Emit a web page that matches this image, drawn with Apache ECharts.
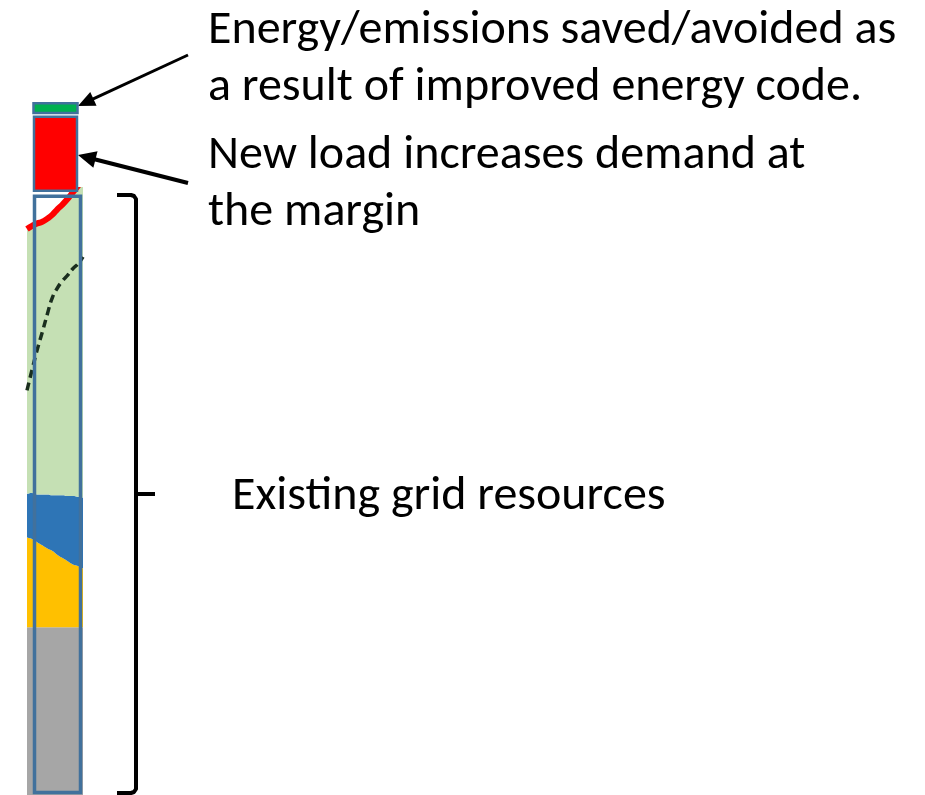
<!DOCTYPE html>
<html>
<head>
<meta charset="utf-8">
<script src="https://cdn.jsdelivr.net/npm/echarts@6/dist/echarts.min.js"></script>
<style>
html,body{margin:0;padding:0;background:#fff;}
#c{width:925px;height:795px;}
</style>
</head>
<body>
<div id="c"></div>
<script>
// ---- data ----
var xCats = ['0', '5', '10', '15', '20', '25', '30', '35', '40', '45', '50', '56'];
// stacked layers (bottom to top)
var greyLayer   = [21.1, 21.1, 21.1, 21.1, 21.1, 21.1, 21.1, 21.1, 21.1, 21.1, 21.1, 21.1];
var yellowLayer = [11.3, 11.1, 10.7, 10.3, 9.9, 9.6, 9.1, 8.7, 8.3, 7.9, 7.7, 7.4];
var blueLayer   = [5.5, 5.8, 6.0, 6.4, 6.8, 7.0, 7.5, 7.9, 8.2, 8.6, 8.7, 8.9];
var greenLayer  = [33.3, 33.6, 34.1, 34.3, 34.7, 35.3, 36.0, 36.6, 37.4, 38.2, 39.1, 40.1];
// dashed reference line
var dashedLine  = [50.9, 53.5, 56.0, 58.2, 60.5, 62.6, 63.8, 64.7, 65.4, 66.2, 66.8, 67.7];
// stacked bar segments: [xStart, xEnd, valueStart, valueEnd]
var barExisting = [7.5, 53.5, 0.3, 75.3];
var barNewLoad  = [7.0, 50.0, 76.0, 85.3];
var barSaved    = [6.5, 50.5, 85.8, 87.0];
// annotation texts
var labelSaved = ['Energy/emissions saved/avoided as', 'a result of improved energy code.'];
var labelNew = ['New load increases demand at', 'the margin'];
var labelExisting = 'Existing grid resources';

var FONT = 'Carlito, Lato, "Liberation Sans", sans-serif';

function arrow(x1,y1,x2,y2,w,hl,hw){
  var dx=x2-x1, dy=y2-y1, L=Math.sqrt(dx*dx+dy*dy), ux=dx/L, uy=dy/L;
  var bx=x2-ux*hl, by=y2-uy*hl, px=-uy, py=ux;
  return [
    {type:'line', shape:{x1:x1,y1:y1,x2:bx+ux*2,y2:by+uy*2}, style:{stroke:'#000',lineWidth:w}},
    {type:'polygon', shape:{points:[[x2,y2],[bx+px*hw/2,by+py*hw/2],[bx-px*hw/2,by-py*hw/2]]}, style:{fill:'#000'}}
  ];
}

var chart = echarts.init(document.getElementById('c'), null, {renderer:'canvas'});

function barItem(seg, fill, stroke, lw){
  return {x0:seg[0], x1:seg[1], y0:seg[2], y1:seg[3], fill:fill, stroke:stroke, lw:lw};
}
var barData = [
  barItem(barExisting, 'rgba(0,0,0,0)', '#41719C', 3.5),
  barItem(barNewLoad, '#FF0000', '#41719C', 2.5),
  barItem(barSaved, '#00B050', '#41719C', 2.5)
];

var graphics = [];
graphics = graphics.concat(arrow(188,55,78,106,3,17,15));
graphics = graphics.concat(arrow(188,183,78,155,4,18,17));
graphics.push({type:'polyline', shape:{points:[[117,195],[131,195],[134,196],[136,199],[136,789],[134,792],[131,793],[117,793]]}, style:{stroke:'#000', fill:null, lineWidth:4, lineJoin:'round'}});
graphics.push({type:'line', shape:{x1:136,y1:494,x2:155,y2:494}, style:{stroke:'#000', lineWidth:4}});
function txt(s,x,y){ return {type:'text', x:x, y:y, style:{text:s, fill:'#000', fontSize:48, fontFamily:FONT, verticalAlign:'middle', align:'left'}}; }
graphics.push(txt(labelSaved[0],208,31));
graphics.push(txt(labelSaved[1],208,88));
graphics.push(txt(labelNew[0],208,156));
graphics.push(txt(labelNew[1],208,213));
graphics.push(txt(labelExisting,232,497));

var areaCommon = {type:'line', stack:'grid', smooth:true, symbol:'none', xAxisIndex:0, yAxisIndex:0, lineStyle:{width:0}, clip:true};

chart.setOption({
  animation:false,
  backgroundColor:'#fff',
  grid:[
    {left:27, width:56, top:190, height:605, containLabel:false},
    {left:27, width:56, top:0, height:795, containLabel:false}
  ],
  xAxis:[
    {type:'category', gridIndex:0, data:xCats, boundaryGap:false, show:false},
    {type:'value', gridIndex:1, min:0, max:56, show:false}
  ],
  yAxis:[
    {type:'value', gridIndex:0, min:0, max:76.1, show:false},
    {type:'value', gridIndex:1, min:0, max:100, show:false}
  ],
  series:[
    Object.assign({}, areaCommon, {name:'grey', data:greyLayer, areaStyle:{color:'#A6A6A6', opacity:1}}),
    Object.assign({}, areaCommon, {name:'yellow', data:yellowLayer, areaStyle:{color:'#FFC000', opacity:1}}),
    Object.assign({}, areaCommon, {name:'blue', data:blueLayer, areaStyle:{color:'#2E75B6', opacity:1}}),
    Object.assign({}, areaCommon, {name:'green', data:greenLayer, areaStyle:{color:'#C5E0B4', opacity:1}, lineStyle:{width:6, color:'#FF0000'}}),
    {type:'line', name:'dashed', data:dashedLine, smooth:true, symbol:'none', xAxisIndex:0, yAxisIndex:0, lineStyle:{color:'#1A2E1E', width:3.5, type:[8,5]}},
    {type:'custom', name:'bars', xAxisIndex:1, yAxisIndex:1,
      data: barData.map(function(d){ return [d.x0, d.x1, d.y0, d.y1]; }),
      renderItem:function(params, api){
        var d = barData[params.dataIndex];
        var p0 = api.coord([api.value(0), api.value(3)]);
        var p1 = api.coord([api.value(1), api.value(2)]);
        return {type:'rect', shape:{x:p0[0], y:p0[1], width:p1[0]-p0[0], height:p1[1]-p0[1]},
          style:{fill:d.fill, stroke:d.stroke, lineWidth:d.lw}};
      }, z:5}
  ],
  graphic: graphics
});
</script>
</body>
</html>
